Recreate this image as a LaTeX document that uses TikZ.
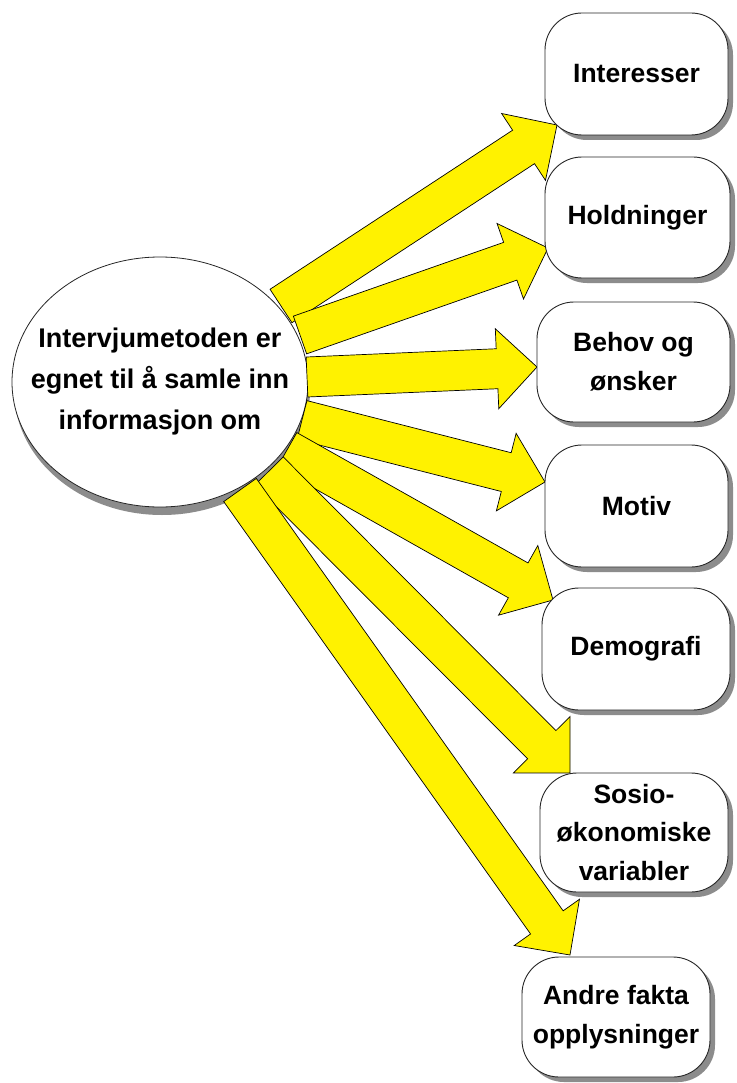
\documentclass[tikz,border=0pt]{standalone}
\usepackage{fontspec}
\setmainfont{Liberation Sans}
\usetikzlibrary{calc,shadows,shapes.geometric}
\newcommand{\blkarrow}[3]{%
  \coordinate (#3) at ($(#2)!40pt!(#1)$);
  \draw[arr] ($(#1)!20pt!90:(#2)$) -- ($(#3)!20pt!90:(#2)$) -- ($(#3)!40pt!90:(#2)$) -- (#2)
    -- ($(#3)!40pt!-90:(#2)$) -- ($(#3)!20pt!-90:(#2)$) -- ($(#1)!20pt!-90:(#2)$) -- cycle;}
\begin{document}
\begin{tikzpicture}[x=1pt,y=-1pt,
  box/.style={draw=black!85,line width=0.9pt,fill=white,rounded corners=37pt,align=center,
    inner sep=0pt,font=\fontsize{26.5}{38.5}\selectfont\bfseries,
    drop shadow={shadow xshift=5pt,shadow yshift=-5pt,fill=black!45,opacity=1}},
  arr/.style={draw=black,line width=0.7pt,fill=yellow,line join=miter},
  ell/.style={ellipse,draw=black!85,line width=0.8pt,fill=white,inner sep=0pt,
    minimum width=296pt,minimum height=250pt,
    drop shadow={shadow xshift=2pt,shadow yshift=-8pt,fill=black!45,opacity=1}},
  etext/.style={align=center,inner sep=0pt,font=\fontsize{27}{41}\selectfont\bfseries}]
\useasboundingbox (0,0) rectangle (736,1083);
\fill[white] (0,0) rectangle (736,1083);

\node[ell] (e) at (160,382) {};
\node[etext] (et) at (e.center) {Intervjumetoden er\\egnet til å samle inn\\informasjon om};

\coordinate (t1) at (281,306); \coordinate (p1) at (557,125);
\coordinate (t2) at (300,335); \coordinate (p2) at (548,248);
\coordinate (t3) at (307,377); \coordinate (p3) at (537,367);
\coordinate (t4) at (302,420); \coordinate (p4) at (545,482);
\coordinate (t5) at (287,450); \coordinate (p5) at (553,600);
\coordinate (t6) at (269,471); \coordinate (p6) at (570,773);
\coordinate (t7) at (240,490); \coordinate (p7) at (570,955);

\blkarrow{t1}{p1}{q1}
\blkarrow{t2}{p2}{q2}
\blkarrow{t3}{p3}{q3}
\blkarrow{t4}{p4}{q4}
\blkarrow{t5}{p5}{q5}
\blkarrow{t6}{p6}{q6}
\blkarrow{t7}{p7}{q7}

\node[box,minimum width=183pt,minimum height=122pt] (b1) at (636.5,74) {Interesser};
\node[box,minimum width=185pt,minimum height=121pt] (b2) at (637.5,217.5) {Holdninger};
\node[box,minimum width=193pt,minimum height=120pt] (b3) at (633.5,362) {Behov og\\ønsker};
\node[box,minimum width=183pt,minimum height=122pt] (b4) at (636.5,506) {Motiv};
\node[box,minimum width=188pt,minimum height=122pt] (b5) at (636,649) {Demografi};
\node[box,minimum width=188pt,minimum height=119pt] (b6) at (634,832.5) {Sosio-\\økonomiske\\variabler};
\node[box,minimum width=188pt,minimum height=120pt] (b7) at (616,1017) {Andre fakta\\opplysninger};
\end{tikzpicture}
\end{document}
